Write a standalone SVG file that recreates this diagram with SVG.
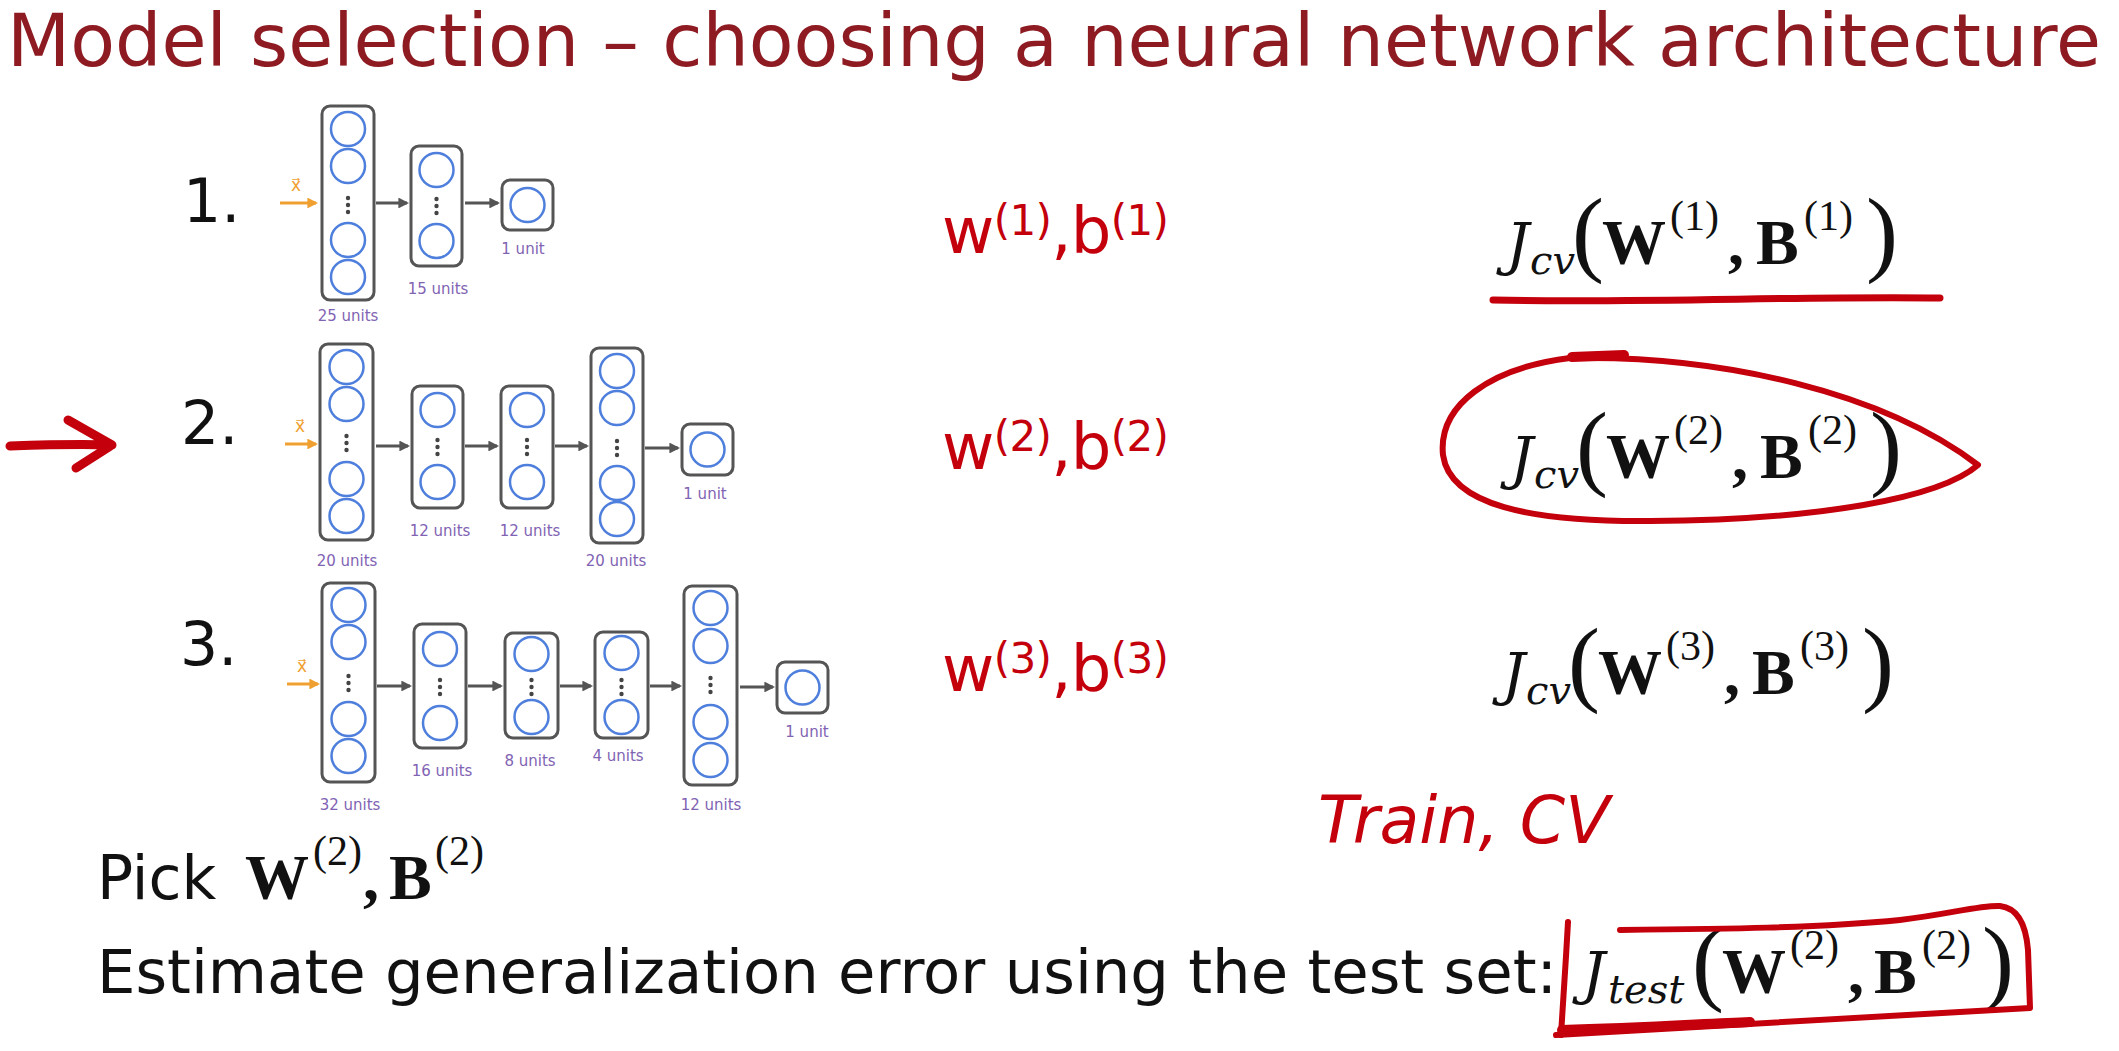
<svg xmlns="http://www.w3.org/2000/svg" width="2119" height="1051" viewBox="0 0 2119 1051">
<defs>
<marker id="ah" viewBox="0 0 10 10" refX="8" refY="5" markerWidth="3.6" markerHeight="3.6" orient="auto" markerUnits="strokeWidth"><path d="M0,0 L10,5 L0,10 z" fill="#555"/></marker>
<marker id="aho" viewBox="0 0 10 10" refX="8" refY="5" markerWidth="3.6" markerHeight="3.6" orient="auto" markerUnits="strokeWidth"><path d="M0,0 L10,5 L0,10 z" fill="#f0a030"/></marker>
</defs>
<style>
.layer{fill:#fff;stroke:#555;stroke-width:3}
.unit{fill:none;stroke:#4f7fdc;stroke-width:2.5}
.dot{fill:#444}
.lbl{font-family:"DejaVu Sans",Verdana,sans-serif;font-size:15px;fill:#8163b3;text-anchor:middle}
.conn{stroke:#555;stroke-width:3;fill:none;marker-end:url(#ah)}
.inp{stroke:#f0a030;stroke-width:3;fill:none;marker-end:url(#aho)}
.xv{font-family:"DejaVu Sans",sans-serif;font-size:17px;fill:#f0a030;text-anchor:middle}
.num{font-family:"DejaVu Sans",Verdana,sans-serif;font-size:60px;fill:#111}
.txt{font-family:"DejaVu Sans",Verdana,sans-serif;font-size:60px;fill:#111}
.title{font-family:"DejaVu Sans",Verdana,sans-serif;font-size:73px;fill:#8e1b22}
.hand{font-family:"DejaVu Sans",sans-serif;fill:#c4000c}
.ink{fill:none;stroke:#c4000c;stroke-linecap:round;stroke-linejoin:round}
.m{font-family:"DejaVu Serif",serif;fill:#111}
.mi{font-style:italic}
.mb{font-family:"Liberation Serif",serif;font-weight:bold;fill:#111;font-size:64px}
.p{font-family:"Liberation Serif",serif;fill:#111}
</style>
<rect width="2119" height="1051" fill="#fff"/>

<text id="title" class="title" x="7" y="66" textLength="2094" lengthAdjust="spacingAndGlyphs">Model selection – choosing a neural network architecture</text>

<!-- row numbers -->
<text class="num" x="183" y="222">1.</text>
<text class="num" x="181" y="444">2.</text>
<text class="num" x="180" y="665">3.</text>

<!-- Network 1 -->
<g id="n1-l1"><rect class="layer" x="322" y="106" width="52" height="194" rx="8"/>
<circle class="unit" cx="348" cy="129" r="17"/><circle class="unit" cx="348" cy="166" r="17"/>
<circle class="dot" cx="348" cy="198" r="2.2"/><circle class="dot" cx="348" cy="205" r="2.2"/><circle class="dot" cx="348" cy="212" r="2.2"/>
<circle class="unit" cx="348" cy="240" r="17"/><circle class="unit" cx="348" cy="277" r="17"/>
<text class="lbl" x="348" y="321">25 units</text></g>
<g id="n1-l2"><rect class="layer" x="411" y="146" width="51" height="120" rx="8"/>
<circle class="unit" cx="436.5" cy="170" r="17"/>
<circle class="dot" cx="436.5" cy="199" r="2.2"/><circle class="dot" cx="436.5" cy="206" r="2.2"/><circle class="dot" cx="436.5" cy="213" r="2.2"/>
<circle class="unit" cx="436.5" cy="241" r="17"/>
<text class="lbl" x="438" y="294">15 units</text></g>
<g id="n1-l3"><rect class="layer" x="502" y="180" width="51" height="50" rx="8"/>
<circle class="unit" cx="527.5" cy="205" r="17"/>
<text class="lbl" x="523" y="254">1 unit</text></g>

<!-- Network 2 -->
<g id="n2-l1"><rect class="layer" x="320" y="344" width="53" height="196" rx="8"/>
<circle class="unit" cx="346.5" cy="367" r="17"/><circle class="unit" cx="346.5" cy="404" r="17"/>
<circle class="dot" cx="346.5" cy="436" r="2.2"/><circle class="dot" cx="346.5" cy="443" r="2.2"/><circle class="dot" cx="346.5" cy="450" r="2.2"/>
<circle class="unit" cx="346.5" cy="479" r="17"/><circle class="unit" cx="346.5" cy="516" r="17"/>
<text class="lbl" x="347" y="566">20 units</text></g>
<g id="n2-l2"><rect class="layer" x="412" y="386" width="51" height="122" rx="8"/>
<circle class="unit" cx="437.5" cy="410" r="17"/>
<circle class="dot" cx="437.5" cy="440" r="2.2"/><circle class="dot" cx="437.5" cy="447" r="2.2"/><circle class="dot" cx="437.5" cy="454" r="2.2"/>
<circle class="unit" cx="437.5" cy="482" r="17"/>
<text class="lbl" x="440" y="536">12 units</text></g>
<g id="n2-l3"><rect class="layer" x="501" y="386" width="52" height="122" rx="8"/>
<circle class="unit" cx="527" cy="410" r="17"/>
<circle class="dot" cx="527" cy="440" r="2.2"/><circle class="dot" cx="527" cy="447" r="2.2"/><circle class="dot" cx="527" cy="454" r="2.2"/>
<circle class="unit" cx="527" cy="482" r="17"/>
<text class="lbl" x="530" y="536">12 units</text></g>
<g id="n2-l4"><rect class="layer" x="591" y="348" width="52" height="195" rx="8"/>
<circle class="unit" cx="617" cy="371" r="17"/><circle class="unit" cx="617" cy="408" r="17"/>
<circle class="dot" cx="617" cy="441" r="2.2"/><circle class="dot" cx="617" cy="448" r="2.2"/><circle class="dot" cx="617" cy="455" r="2.2"/>
<circle class="unit" cx="617" cy="483" r="17"/><circle class="unit" cx="617" cy="519" r="17"/>
<text class="lbl" x="616" y="566">20 units</text></g>
<g id="n2-l5"><rect class="layer" x="682" y="424" width="51" height="51" rx="8"/>
<circle class="unit" cx="707.5" cy="449.5" r="17"/>
<text class="lbl" x="705" y="499">1 unit</text></g>

<!-- Network 3 -->
<g id="n3-l1"><rect class="layer" x="322" y="583" width="53" height="199" rx="8"/>
<circle class="unit" cx="348.5" cy="605" r="17"/><circle class="unit" cx="348.5" cy="642" r="17"/>
<circle class="dot" cx="348.5" cy="676" r="2.2"/><circle class="dot" cx="348.5" cy="683" r="2.2"/><circle class="dot" cx="348.5" cy="690" r="2.2"/>
<circle class="unit" cx="348.5" cy="719" r="17"/><circle class="unit" cx="348.5" cy="756" r="17"/>
<text class="lbl" x="350" y="810">32 units</text></g>
<g id="n3-l2"><rect class="layer" x="414" y="624" width="52" height="124" rx="8"/>
<circle class="unit" cx="440" cy="649" r="17"/>
<circle class="dot" cx="440" cy="680" r="2.2"/><circle class="dot" cx="440" cy="687" r="2.2"/><circle class="dot" cx="440" cy="694" r="2.2"/>
<circle class="unit" cx="440" cy="723" r="17"/>
<text class="lbl" x="442" y="776">16 units</text></g>
<g id="n3-l3"><rect class="layer" x="505" y="633" width="53" height="105" rx="8"/>
<circle class="unit" cx="531.5" cy="654" r="17"/>
<circle class="dot" cx="531.5" cy="680" r="2.2"/><circle class="dot" cx="531.5" cy="687" r="2.2"/><circle class="dot" cx="531.5" cy="694" r="2.2"/>
<circle class="unit" cx="531.5" cy="717" r="17"/>
<text class="lbl" x="530" y="766">8 units</text></g>
<g id="n3-l4"><rect class="layer" x="595" y="632" width="53" height="106" rx="8"/>
<circle class="unit" cx="621.5" cy="653" r="17"/>
<circle class="dot" cx="621.5" cy="680" r="2.2"/><circle class="dot" cx="621.5" cy="687" r="2.2"/><circle class="dot" cx="621.5" cy="694" r="2.2"/>
<circle class="unit" cx="621.5" cy="717" r="17"/>
<text class="lbl" x="618" y="761">4 units</text></g>
<g id="n3-l5"><rect class="layer" x="684" y="586" width="53" height="199" rx="8"/>
<circle class="unit" cx="710.5" cy="608" r="17"/><circle class="unit" cx="710.5" cy="646" r="17"/>
<circle class="dot" cx="710.5" cy="678" r="2.2"/><circle class="dot" cx="710.5" cy="685" r="2.2"/><circle class="dot" cx="710.5" cy="692" r="2.2"/>
<circle class="unit" cx="710.5" cy="722" r="17"/><circle class="unit" cx="710.5" cy="760" r="17"/>
<text class="lbl" x="711" y="810">12 units</text></g>
<g id="n3-l6"><rect class="layer" x="777" y="662" width="51" height="51" rx="8"/>
<circle class="unit" cx="802.5" cy="687.5" r="17"/>
<text class="lbl" x="807" y="737">1 unit</text></g>

<!-- connectors -->
<g id="connectors">
<path class="inp" d="M280,203 H316"/>
<path class="conn" d="M376,203 H407"/>
<path class="conn" d="M465,203 H498"/>
<path class="inp" d="M285,444 H316"/>
<path class="conn" d="M376,446 H408"/>
<path class="conn" d="M465,446 H497"/>
<path class="conn" d="M555,446 H587"/>
<path class="conn" d="M645,448 H678"/>
<path class="inp" d="M287,684 H318"/>
<path class="conn" d="M377,686 H410"/>
<path class="conn" d="M468,686 H501"/>
<path class="conn" d="M560,686 H591"/>
<path class="conn" d="M650,686 H680"/>
<path class="conn" d="M740,687 H773"/>
</g>
<text class="xv" x="296" y="191">x⃗</text>
<text class="xv" x="300" y="432">x⃗</text>
<text class="xv" x="302" y="672">x⃗</text>

<!-- handwritten parameters -->
<text class="hand" x="942" y="253" font-size="64" textLength="227" lengthAdjust="spacing">w<tspan font-size="42" dy="-18">(1)</tspan><tspan dy="18">,b</tspan><tspan font-size="42" dy="-18">(1)</tspan></text>
<text class="hand" x="942" y="469" font-size="64" textLength="227" lengthAdjust="spacing">w<tspan font-size="42" dy="-18">(2)</tspan><tspan dy="18">,b</tspan><tspan font-size="42" dy="-18">(2)</tspan></text>
<text class="hand" x="942" y="691" font-size="64" textLength="227" lengthAdjust="spacing">w<tspan font-size="42" dy="-18">(3)</tspan><tspan dy="18">,b</tspan><tspan font-size="42" dy="-18">(3)</tspan></text>

<!-- J_cv formulas -->
<g id="jcv1" transform="translate(1506,264)">
<text class="m mi" x="0" y="0" font-size="58">J</text>
<text class="m mi" x="24" y="10" font-size="40">cv</text>
<text class="p" x="66" y="0" font-size="96">(</text>
<text class="mb" x="96" y="0">W</text>
<text class="p" x="164" y="-34" font-size="42">(1)</text>
<text class="mb" x="222" y="0">,</text>
<text class="mb" x="250" y="0">B</text>
<text class="p" x="298" y="-34" font-size="42">(1)</text>
<text class="p" x="360" y="0" font-size="96">)</text>
</g>
<g id="jcv2" transform="translate(1510,478)">
<text class="m mi" x="0" y="0" font-size="58">J</text>
<text class="m mi" x="24" y="10" font-size="40">cv</text>
<text class="p" x="66" y="0" font-size="96">(</text>
<text class="mb" x="96" y="0">W</text>
<text class="p" x="164" y="-34" font-size="42">(2)</text>
<text class="mb" x="222" y="0">,</text>
<text class="mb" x="250" y="0">B</text>
<text class="p" x="298" y="-34" font-size="42">(2)</text>
<text class="p" x="360" y="0" font-size="96">)</text>
</g>
<g id="jcv3" transform="translate(1502,694)">
<text class="m mi" x="0" y="0" font-size="58">J</text>
<text class="m mi" x="24" y="10" font-size="40">cv</text>
<text class="p" x="66" y="0" font-size="96">(</text>
<text class="mb" x="96" y="0">W</text>
<text class="p" x="164" y="-34" font-size="42">(3)</text>
<text class="mb" x="222" y="0">,</text>
<text class="mb" x="250" y="0">B</text>
<text class="p" x="298" y="-34" font-size="42">(3)</text>
<text class="p" x="360" y="0" font-size="96">)</text>
</g>

<!-- red ink marks -->
<path class="ink" stroke-width="9" d="M10,446 C40,445 80,444 112,445 M68,420 L112,445 L76,468"/>
<path class="ink" stroke-width="7" d="M1493,300 C1650,303 1800,296 1940,298"/>
<path class="ink" stroke-width="6" d="M1590,358 C1720,358 1880,390 1978,465 C1940,498 1820,520 1650,521 C1530,522 1450,505 1443,455 C1438,405 1490,368 1570,358"/>
<path class="ink" stroke-width="10" d="M1572,357 L1624,355"/>

<text class="hand" x="1318" y="843" font-size="65" font-style="italic">Train, CV</text>

<!-- bottom lines -->
<text class="txt" x="97" y="899">Pick</text>
<g id="pick" transform="translate(245,899)">
<text class="mb" x="0" y="0">W</text>
<text class="p" x="68" y="-34" font-size="42">(2)</text>
<text class="mb" x="118" y="0">,</text>
<text class="mb" x="144" y="0">B</text>
<text class="p" x="190" y="-34" font-size="42">(2)</text>
</g>
<text class="txt" x="97" y="993" textLength="1460" lengthAdjust="spacingAndGlyphs">Estimate generalization error using the test set:</text>
<g id="jtest" transform="translate(1582,993)">
<text class="m mi" x="0" y="0" font-size="58">J</text>
<text class="m mi" x="26" y="10" font-size="40">test</text>
<text class="p" x="110" y="0" font-size="96">(</text>
<text class="mb" x="140" y="0">W</text>
<text class="p" x="208" y="-34" font-size="42">(2)</text>
<text class="mb" x="266" y="0">,</text>
<text class="mb" x="292" y="0">B</text>
<text class="p" x="340" y="-34" font-size="42">(2)</text>
<text class="p" x="400" y="0" font-size="96">)</text>
</g>
<path class="ink" stroke-width="6" d="M1568,922 C1566,960 1563,1000 1561,1035"/>
<path class="ink" stroke-width="6" d="M1620,930 C1720,929 1820,928 1900,920 C1950,914 1980,905 2000,906 C2018,908 2026,925 2028,950 L2030,1008 C1900,1016 1740,1024 1556,1035"/>
<path class="ink" stroke-width="10" d="M1562,1030 C1640,1028 1700,1024 1750,1022"/>
</svg>
